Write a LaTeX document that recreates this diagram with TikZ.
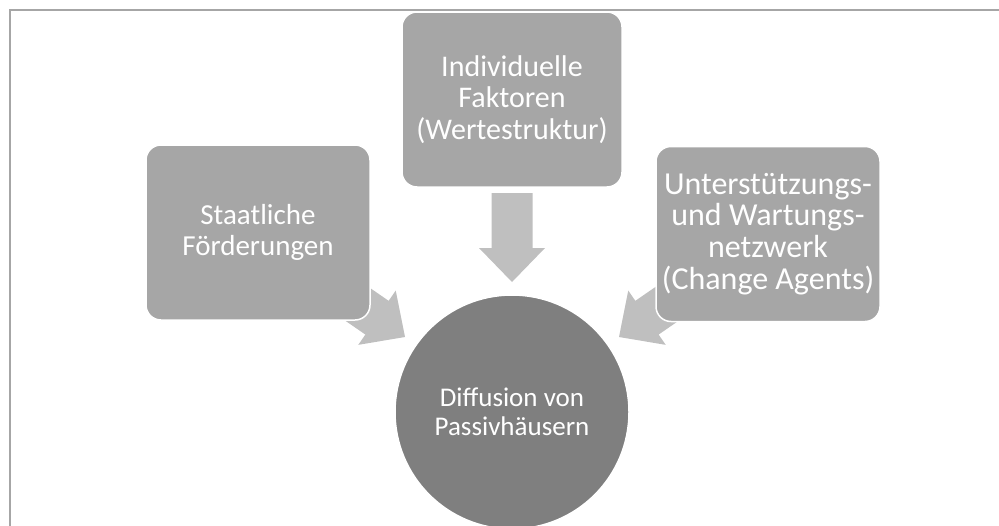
\documentclass[tikz,border=0pt]{standalone}
\usepackage{fontspec}
\setmainfont{Carlito}
\definecolor{boxgray}{RGB}{166,166,166}
\definecolor{arrowgray}{RGB}{191,191,191}
\definecolor{circlegray}{RGB}{127,127,127}
\definecolor{framegray}{RGB}{166,166,166}
\begin{document}
\begin{tikzpicture}[x=1pt,y=-1pt,
  boxnode/.style={draw=white, line width=1.5pt, fill=boxgray, rounded corners=15pt,
    minimum width=224pt, minimum height=175pt, inner sep=0pt, text=white,
    align=center, font=\fontsize{29pt}{31.5pt}\selectfont},
  circnode/.style={circle, draw=white, line width=1.5pt, fill=circlegray,
    minimum size=234pt, inner sep=0pt, text=white, align=center,
    font=\fontsize{27pt}{29pt}\selectfont},
  blockarrow/.style={fill=arrowgray, draw=none},
  framestyle/.style={draw=framegray, line width=2pt}]
\useasboundingbox (0,0) rectangle (999,525);
\clip (0,0) rectangle (999,525);
% frame
\coordinate (fbl) at (10,530);
\coordinate (ftl) at (10,10);
\coordinate (ftr) at (1005,10);
\draw[framestyle] (fbl) -- (ftl) -- (ftr);
% block arrows (drawn below the boxes)
\coordinate (tipD) at (512,282);
\coordinate (tipL) at (405,337);
\coordinate (tipR) at (619,337);
\foreach \t/\a in {tipD/-90, tipL/-34.6, tipR/-145.4}{
  \begin{scope}[shift={(\t)}, rotate=\a, x=1pt, y=1pt]
    \fill[blockarrow] (-89,-20.5) -- (-34,-20.5) -- (-34,-33) -- (0,0)
      -- (-34,33) -- (-34,20.5) -- (-89,20.5) -- cycle;
  \end{scope}
}
% boxes
\node[boxnode] (left) at (258,232.5) {Staatliche\\Förderungen};
\node[boxnode, minimum width=220pt, font=\fontsize{30pt}{31.5pt}\selectfont] (top) at (512,99.5) {Individuelle\\Faktoren\\(Wertestruktur)};
\node[boxnode, font=\fontsize{32pt}{31.7pt}\selectfont] (right) at (768,234) {Unterstützungs-\\und Wartungs-\\netzwerk\\(Change Agents)};
% circle
\node[circnode] (center) at (512,412) {Diffusion von\\Passivhäusern};
\end{tikzpicture}
\end{document}
